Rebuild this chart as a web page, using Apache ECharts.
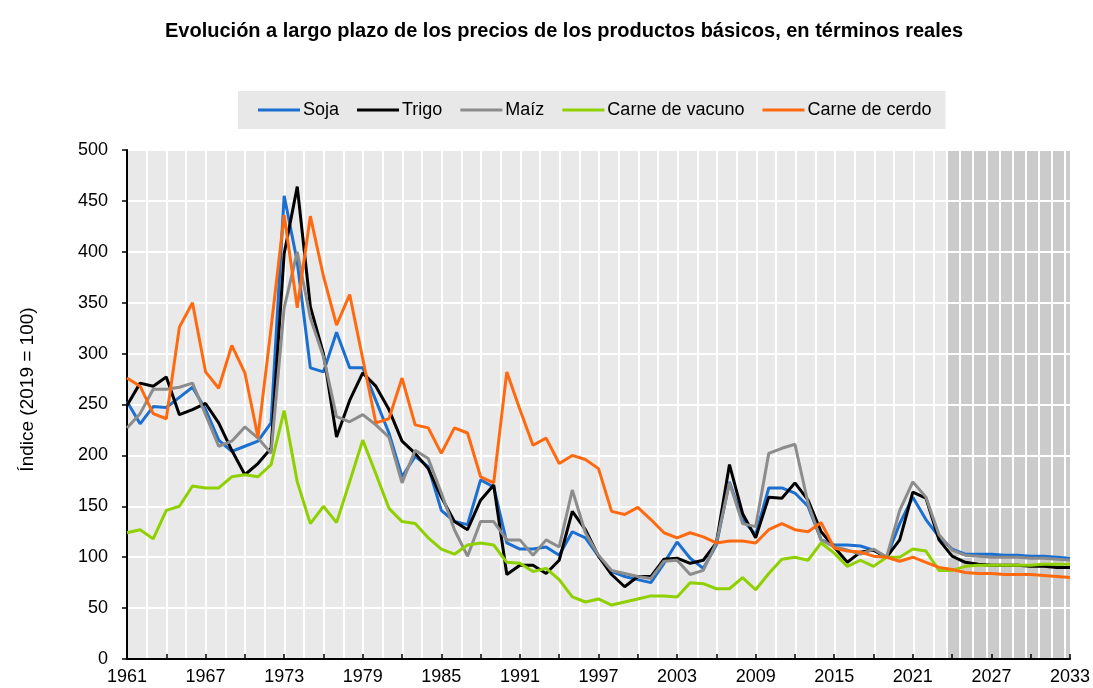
<!DOCTYPE html>
<html>
<head>
<meta charset="utf-8">
<script src="https://cdn.jsdelivr.net/npm/echarts@6/dist/echarts.min.js"></script>
<style>
  html, body { margin: 0; padding: 0; background: #fff; }
  #chart { width: 1093px; height: 688px; }
</style>
</head>
<body>
<div id="chart"></div>
<script>
// años 1961-2033 (proyecciones desde 2024)
const years = [];
for (let y = 1961; y <= 2033; y++) years.push(String(y));

const soja = [253, 231, 248, 247, 257, 267, 245, 215, 204, 209, 214, 232, 455, 390, 286, 282, 321, 286, 286, 254,
  222, 179, 199, 189, 146, 135, 132, 176, 169, 114, 108, 108, 110, 102, 125, 119, 101, 86, 81, 78,
  75, 94, 115, 99, 89, 112, 174, 137, 122, 168, 168, 163, 150, 117, 112, 112, 111, 107, 100, 133,
  159, 137, 120, 108, 103, 103, 103, 102, 102, 101, 101, 100, 99];
const trigo = [249, 271, 268, 277, 240, 245, 251, 232, 205, 181, 192, 207, 398, 464, 346, 300, 218, 254, 281, 268,
  245, 214, 202, 187, 159, 135, 127, 156, 171, 83, 92, 92, 84, 97, 145, 127, 101, 83, 71, 81,
  81, 98, 99, 94, 97, 114, 191, 143, 119, 159, 158, 173, 156, 125, 110, 95, 105, 107, 100, 117,
  164, 158, 117, 101, 95, 93, 92, 92, 92, 91, 91, 90, 90];
const maiz = [227, 241, 265, 265, 267, 271, 240, 209, 214, 228, 217, 202, 345, 400, 335, 297, 238, 233, 240, 230,
  218, 173, 205, 197, 163, 127, 101, 135, 135, 117, 117, 102, 117, 110, 166, 124, 102, 87, 84, 81,
  79, 96, 97, 83, 87, 114, 173, 133, 130, 202, 207, 211, 153, 117, 110, 107, 103, 108, 100, 146,
  174, 159, 122, 107, 102, 101, 100, 100, 100, 99, 99, 98, 97];
const vacuno = [124, 127, 118, 146, 150, 170, 168, 168, 179, 181, 179, 191, 244, 174, 133, 150, 134, 174, 215, 182,
  148, 135, 133, 119, 108, 103, 112, 114, 112, 95, 94, 86, 89, 78, 61, 56, 59, 53, 56, 59,
  62, 62, 61, 75, 74, 69, 69, 80, 68, 84, 98, 100, 97, 114, 104, 91, 97, 91, 100, 100,
  108, 106, 87, 87, 91, 92, 92, 92, 92, 92, 93, 93, 93];
const cerdo = [276, 268, 241, 236, 326, 350, 282, 266, 308, 281, 218, 325, 436, 345, 435, 376, 328, 358, 295, 232,
  236, 276, 230, 227, 202, 227, 222, 179, 173, 282, 245, 210, 217, 192, 200, 196, 187, 145, 142, 149,
  137, 124, 119, 124, 120, 114, 116, 116, 114, 127, 133, 127, 125, 134, 109, 106, 105, 101, 100, 96,
  100, 95, 90, 88, 85, 84, 84, 83, 83, 83, 82, 81, 80];

const names = ['Soja', 'Trigo', 'Maíz', 'Carne de vacuno', 'Carne de cerdo'];
const colors = ['#1a6fd0', '#000000', '#8c8c8c', '#8fd000', '#ff6a10'];

const FONT = '"Liberation Sans", Arial, sans-serif';

let myChart = echarts.init(document.getElementById('chart'));

const gTop = 150, gBottom = 29, gLeft = 127, gRight = 22;
const splitX = 947; // inicio de la zona de proyección

function bgAxisY (idx) {
  return {
    gridIndex: idx, type: 'value', min: 0, max: 500, interval: 50,
    axisLine: { show: false }, axisTick: { show: false }, axisLabel: { show: false },
    splitLine: { show: true, lineStyle: { color: '#ffffff', width: 2 } }
  };
}

myChart.setOption({
  animation: false,
  title: {
    text: 'Evolución a largo plazo de los precios de los productos básicos, en términos reales',
    left: 160,
    top: 16,
    textStyle: { fontFamily: FONT, fontWeight: 'bold', fontSize: 20, color: '#000' }
  },
  legend: {
    data: names,
    left: 238,
    top: 91,
    backgroundColor: '#e8e8e8',
    padding: [10, 14, 10, 20],
    itemGap: 18,
    itemWidth: 42,
    itemHeight: 3,
    icon: 'rect',
    textStyle: { fontFamily: FONT, fontSize: 18, color: '#000', padding: [0, 0, 0, -2] }
  },
  grid: [
    { left: gLeft, right: gRight, top: gTop, bottom: gBottom },
    { left: gLeft, width: splitX - gLeft, top: gTop, bottom: gBottom, show: true, backgroundColor: '#e9e9e9', borderWidth: 0 },
    { left: splitX, right: gRight, top: gTop, bottom: gBottom, show: true, backgroundColor: '#cbcbcb', borderWidth: 0 }
  ],
  xAxis: [
    {
      gridIndex: 0,
      type: 'category',
      data: years,
      boundaryGap: false,
      axisLine: { lineStyle: { color: '#000', width: 2 } },
      axisTick: { inside: true, length: 5, interval: 2, lineStyle: { color: '#000', width: 1.5 } },
      axisLabel: { interval: 5, color: '#000', fontFamily: FONT, fontSize: 18, margin: 9 },
      splitLine: { show: false }
    },
    {
      gridIndex: 1, type: 'value', min: 0, max: (splitX - gLeft) / 19.67, interval: 1,
      axisLine: { show: false }, axisTick: { show: false }, axisLabel: { show: false },
      splitLine: { show: true, lineStyle: { color: '#ffffff', width: 2 } }
    },
    {
      gridIndex: 2, type: 'value', min: 0, max: (1093 - gRight - splitX) / 13.11, interval: 1,
      axisLine: { show: false }, axisTick: { show: false }, axisLabel: { show: false },
      splitLine: { show: true, lineStyle: { color: '#ffffff', width: 2 } }
    }
  ],
  yAxis: [
    {
      gridIndex: 0,
      type: 'value',
      min: 0,
      max: 500,
      interval: 50,
      name: 'Índice (2019 = 100)',
      nameLocation: 'middle',
      nameRotate: 90,
      nameGap: 90,
      nameTextStyle: { fontFamily: FONT, fontSize: 19, color: '#000', padding: [0, 0, 0, 30] },
      axisLine: { show: true, lineStyle: { color: '#000', width: 2 } },
      axisTick: { show: true, length: 5, lineStyle: { color: '#000', width: 1.5 } },
      axisLabel: { color: '#000', fontFamily: FONT, fontSize: 18, margin: 19 },
      splitLine: { show: false }
    },
    bgAxisY(1),
    bgAxisY(2)
  ],
  series: names.map((n, i) => ({
    name: n,
    type: 'line',
    xAxisIndex: 0,
    yAxisIndex: 0,
    data: [soja, trigo, maiz, vacuno, cerdo][i],
    symbol: 'none',
    color: colors[i],
    lineStyle: { width: 3, color: colors[i] }
  }))
});
window.addEventListener('resize', () => {
  myChart.resize();
});
</script>
</body>
</html>
